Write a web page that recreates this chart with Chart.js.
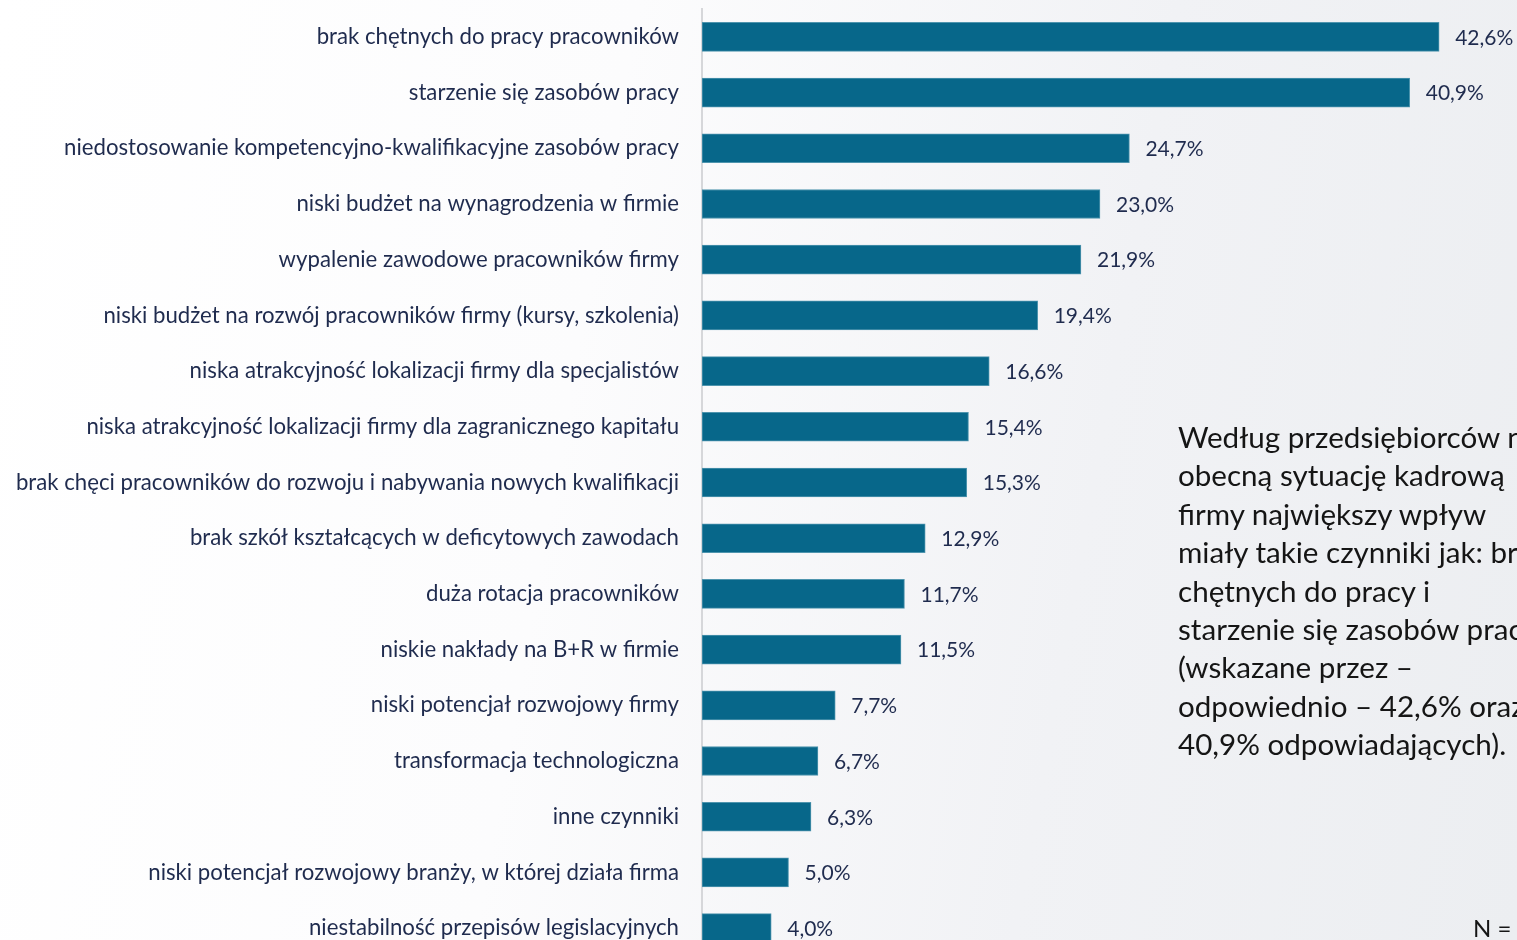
<!DOCTYPE html>
<html lang="pl">
<head>
<meta charset="utf-8">
<title>Czynniki wpływające na sytuację kadrową firmy</title>
<script src="https://cdn.jsdelivr.net/npm/chart.js@4.4.1/dist/chart.umd.min.js"></script>
<style>
    html, body {
        margin: 0;
        padding: 0;
        width: 1517px;
        height: 940px;
        overflow: hidden;
        background: linear-gradient(100deg, #ffffff 0%, #fcfcfd 38%, #f1f2f5 70%, #eceef1 100%);
        font-family: Lato, "Open Sans", sans-serif;
    }
    #bars {
        position: absolute;
        left: 0;
        top: 0;
    }
    #note {
        position: absolute;
        left: 1178px;
        top: 418px;
        font-size: 29.6px;
        line-height: 38.4px;
        color: #151515;
        white-space: nowrap;
    }
    #n-label {
        position: absolute;
        left: 1473px;
        top: 913px;
        font-size: 24px;
        color: #151515;
        white-space: nowrap;
    }
</style>
</head>
<body>
<canvas id="bars" width="1517" height="960"></canvas>
<div id="note">
    Według przedsiębiorców na<br>
    obecną sytuację kadrową<br>
    firmy największy wpływ<br>
    miały takie czynniki jak: brak<br>
    chętnych do pracy i<br>
    starzenie się zasobów pracy<br>
    (wskazane przez –<br>
    odpowiednio – 42,6% oraz<br>
    40,9% odpowiadających).
</div>
<div id="n-label">N =</div>

<script>
// DATA

const categories = [
    'brak chętnych do pracy pracowników',
    'starzenie się zasobów pracy',
    'niedostosowanie kompetencyjno-kwalifikacyjne zasobów pracy',
    'niski budżet na wynagrodzenia w firmie',
    'wypalenie zawodowe pracowników firmy',
    'niski budżet na rozwój pracowników firmy (kursy, szkolenia)',
    'niska atrakcyjność lokalizacji firmy dla specjalistów',
    'niska atrakcyjność lokalizacji firmy dla zagranicznego kapitału',
    'brak chęci pracowników do rozwoju i nabywania nowych kwalifikacji',
    'brak szkół kształcących w deficytowych zawodach',
    'duża rotacja pracowników',
    'niskie nakłady na B+R w firmie',
    'niski potencjał rozwojowy firmy',
    'transformacja technologiczna',
    'inne czynniki',
    'niski potencjał rozwojowy branży, w której działa firma',
    'niestabilność przepisów legislacyjnych'
];

const shares = [42.6, 40.9, 24.7, 23.0, 21.9, 19.4, 16.6, 15.4, 15.3, 12.9, 11.7, 11.5, 7.7, 6.7, 6.3, 5.0, 4.0];


// FORMATTING

const pct = (v) => v.toFixed(1).replace('.', ',') + '%';

const TEXT_COLOR = '#1f2b4e';
const BAR_COLOR = '#07678a';


// VALUE LABELS

const valueLabels = {
    id: 'valueLabels',
    afterDatasetsDraw(chart) {
        const ctx = chart.ctx;
        const meta = chart.getDatasetMeta(0);
        ctx.save();
        ctx.font = '21px Lato, "Open Sans", sans-serif';
        ctx.fillStyle = TEXT_COLOR;
        ctx.textAlign = 'left';
        ctx.textBaseline = 'middle';
        meta.data.forEach((bar, i) => {
            ctx.fillText(pct(shares[i]), bar.x + 16, bar.y + 1);
        });
        ctx.restore();
    }
};


// CHART

const canvas = document.getElementById('bars');

new Chart(canvas.getContext('2d'), {
    type: 'bar',
    data: {
        labels: categories,
        datasets: [{
            data: shares,
            backgroundColor: BAR_COLOR,
            borderColor: '#4f95ae',
            borderWidth: 1,
            borderSkipped: false,
            barThickness: 29
        }]
    },
    options: {
        indexAxis: 'y',
        responsive: false,
        animation: false,
        layout: { padding: { top: 9, bottom: 4, left: 0, right: 0 } },
        plugins: {
            legend: { display: false },
            tooltip: { enabled: false }
        },
        scales: {
            x: {
                display: false,
                min: 0,
                max: 47.1
            },
            y: {
                afterFit: (scale) => {
                    scale.width = 702;
                    scale.paddingTop = 0;    // no extra room for the label padding
                    scale.paddingBottom = 0;
                },
                grid: { display: false, drawTicks: false },
                border: { display: true, color: '#d6d7da', width: 2 },
                ticks: {
                    padding: 23,
                    color: TEXT_COLOR,
                    font: { family: 'Lato, "Open Sans", sans-serif', size: 22.2 },
                    autoSkip: false
                }
            }
        }
    },
    plugins: [valueLabels]
});
</script>
</body>
</html>
